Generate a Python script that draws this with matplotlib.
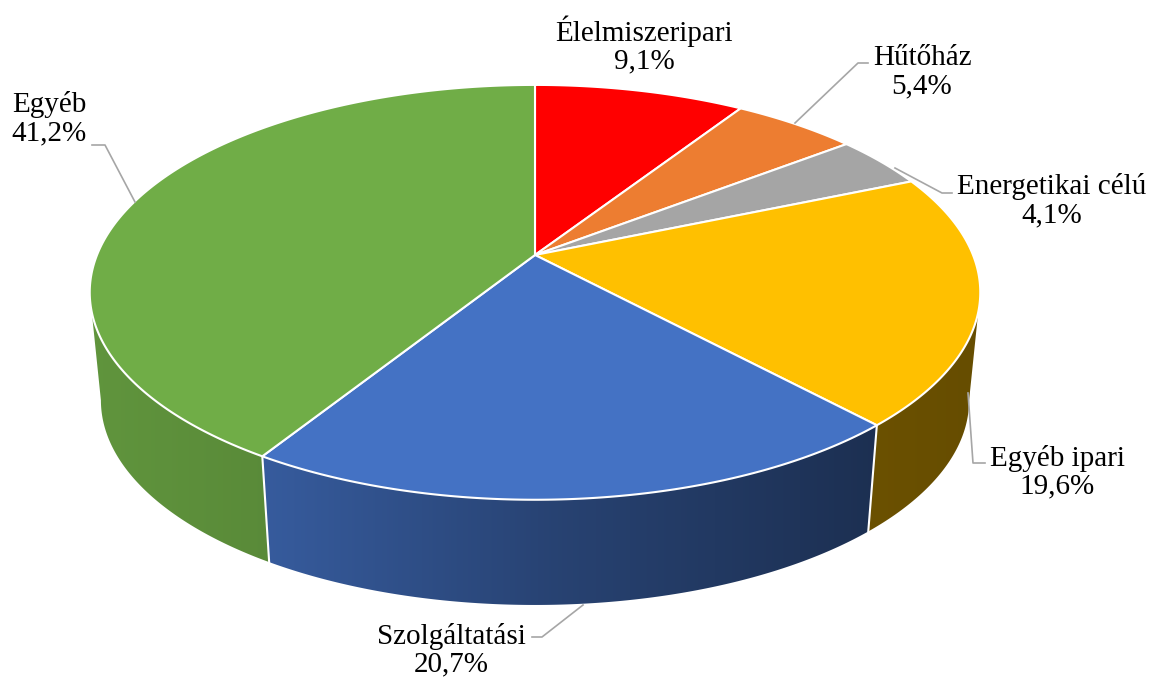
import numpy as np
import matplotlib.pyplot as plt
from matplotlib.patches import Polygon
from matplotlib.colors import to_rgb

plt.rcParams['font.family'] = ['Liberation Serif', 'DejaVu Serif']

# data (clockwise from 12 o'clock)
categories = ['Élelmiszeripari', 'Hűtőház', 'Energetikai célú',
              'Egyéb ipari', 'Szolgáltatási', 'Egyéb']
values = [9.1, 5.4, 4.1, 19.6, 20.7, 41.2]
colors = ['#FF0000', '#ED7D31', '#A5A5A5', '#FFC000', '#4472C4', '#70AD47']

# label centre (pixels) and leader line points
label_pos = [(644, 45), (922, 72), (1052, 201), (1057, 472), (451, 650), (49, 119)]
leaders = [None,
           [(868, 63), (858, 63), (795, 123)],
           [(952, 193), (942, 193), (895, 168)],
           [(985, 463), (973, 463), (968, 393)],
           [(532, 637), (542, 637), (583, 605)],
           [(92, 145), (105, 145), (135, 202)]]

# 3d-ish projection of the pie
cx = 535
p = 0.18
top = dict(R=438, S=200.7, cy=255)
bot = dict(R=427, S=198, cy=363.5)


def proj(f, g):
    t = 2 * np.pi * np.asarray(f)
    u, v = np.sin(t), np.cos(t)
    w = 1 + p * v
    return cx + g['R'] * u / w, g['cy'] - g['S'] * v / w


def shade(x):
    return np.interp(x, [90, 268, 560, 870, 980], [0.86, 0.8, 0.58, 0.42, 0.4])


fig = plt.figure(figsize=(11.52, 6.79), dpi=100)
ax = fig.add_axes([0, 0, 1, 1])
ax.set_xlim(0, 1152)
ax.set_ylim(679, 0)
ax.axis('off')

total = sum(values)
bounds = np.concatenate([[0], np.cumsum(values) / total])
xcols = np.arange(1152) + 0.5

# visible part of the wall lies between the two silhouettes
f_right = np.arccos(-p) / (2 * np.pi)
f_left = 1 - f_right

# side walls, gradient image clipped to each wall
for i in range(len(values)):
    a = max(bounds[i], f_right)
    b = min(bounds[i + 1], f_left)
    if b <= a:
        continue
    fs = np.linspace(a, b, 300)
    xt, yt = proj(fs, top)
    xb, yb = proj(fs, bot)
    pts = np.column_stack([np.concatenate([xt, xb[::-1]]),
                           np.concatenate([yt, yb[::-1]])])
    wall = Polygon(pts, closed=True, facecolor='none', edgecolor='none')
    ax.add_patch(wall)
    base = np.array(to_rgb(colors[i]))
    grad = np.clip(base[None, :] * shade(xcols)[:, None], 0, 1)[None, :, :]
    im = ax.imshow(grad, extent=(0, 1152, 679, 0), aspect='auto',
                   interpolation='bilinear', zorder=1)
    im.set_clip_path(wall)

# white seams on the side
for b in bounds[1:-1]:
    if f_right < b < f_left:
        xt, yt = proj(b, top)
        xb, yb = proj(b, bot)
        ax.plot([xt, xb], [yt, yb], color='white', lw=1.5, zorder=2)

# top face
for i in range(len(values)):
    fs = np.linspace(bounds[i], bounds[i + 1], 200)
    xt, yt = proj(fs, top)
    xs = np.concatenate([[cx], xt])
    ys = np.concatenate([[top['cy']], yt])
    ax.fill(xs, ys, facecolor=colors[i], edgecolor='white', lw=1.5, zorder=3)

# labels
for i, name in enumerate(categories):
    txt = name + '\n' + f'{values[i]:.1f}'.replace('.', ',') + '%'
    ax.text(label_pos[i][0], label_pos[i][1], txt, ha='center', va='center',
            fontsize=21, color='black', linespacing=1.1, zorder=5)
    if leaders[i]:
        lx, ly = zip(*leaders[i])
        ax.plot(lx, ly, color='#a6a6a6', lw=1.2, zorder=4)

ax.set_xlim(0, 1152)
ax.set_ylim(679, 0)
fig.savefig('out.png', dpi=100)
